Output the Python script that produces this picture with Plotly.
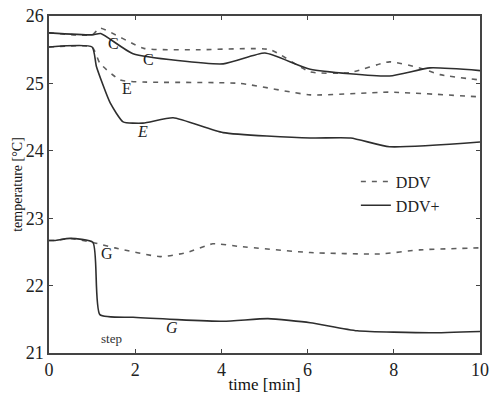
import plotly.graph_objects as go

# Data (time in min, temperature in °C)
c_ddvp_t = [0, 1.0, 1.2, 1.95, 4.04, 5.01, 6.06, 7.9, 8.84, 10]
c_ddvp_y = [25.75, 25.72, 25.74, 25.44, 25.29, 25.45, 25.21, 25.11, 25.23, 25.19]
c_ddv_t = [0, 1.0, 1.18, 2.2, 3.5, 5.13, 6.06, 6.98, 7.9, 8.6, 9.07, 10]
c_ddv_y = [25.75, 25.72, 25.82, 25.52, 25.5, 25.5, 25.17, 25.16, 25.32, 25.23, 25.13, 25.05]

e_ddvp_t = [0, 1.0, 1.1, 1.42, 1.72, 2.18, 2.88, 4.04, 6.06, 7.0, 7.9, 10]
e_ddvp_y = [25.54, 25.54, 25.25, 24.71, 24.43, 24.41, 24.49, 24.27, 24.19, 24.19, 24.06, 24.13]
e_ddv_t = [0, 1.0, 1.18, 1.65, 2.18, 4.43, 6.06, 7.9, 10]
e_ddv_y = [25.54, 25.54, 25.3, 25.05, 25.02, 25.0, 24.83, 24.87, 24.8]

g_ddvp_t = [0, 0.14, 0.49, 1.02, 1.18, 1.95, 4.04, 5.08, 6.06, 7.15, 8.84, 10]
g_ddvp_y = [22.67, 22.67, 22.70, 22.64, 21.57, 21.53, 21.47, 21.51, 21.45, 21.33, 21.30, 21.32]
g_ddv_t = [0, 0.14, 0.49, 1.02, 1.53, 2.58, 3.2, 3.8, 4.43, 6.06, 7.68, 8.6, 10]
g_ddv_y = [22.67, 22.67, 22.70, 22.64, 22.56, 22.43, 22.49, 22.62, 22.58, 22.49, 22.47, 22.53, 22.56]

x_ticks = [0, 2, 4, 6, 8, 10]
y_ticks = [21, 22, 23, 24, 25, 26]

labels = [("C", 1.49, 25.59, False), ("C", 2.3, 25.36, False),
          ("E", 1.81, 24.93, False), ("E", 2.16, 24.28, True),
          ("G", 1.35, 22.48, False), ("G", 2.85, 21.38, True)]

SOLID = "#2e2e2e"
DASHC = "#5e5e5e"
FONT = "Liberation Serif"

fig = go.Figure()
series = [(c_ddv_t, c_ddv_y, c_ddvp_t, c_ddvp_y),
          (e_ddv_t, e_ddv_y, e_ddvp_t, e_ddvp_y),
          (g_ddv_t, g_ddv_y, g_ddvp_t, g_ddvp_y)]
for i, (dt, dy, st, sy) in enumerate(series):
    fig.add_trace(go.Scatter(x=dt, y=dy, mode="lines", name="DDV",
                             legendgroup="ddv", showlegend=(i == 0),
                             line=dict(color=DASHC, width=1.6, dash="5px,6px",
                                       shape="spline", smoothing=0.5)))
    fig.add_trace(go.Scatter(x=st, y=sy, mode="lines", name="DDV+",
                             legendgroup="ddvp", showlegend=(i == 0),
                             line=dict(color=SOLID, width=1.6,
                                       shape="spline", smoothing=0.5)))

for txt, x, y, it in labels:
    fig.add_annotation(x=x, y=y, text=("<i>%s</i>" % txt) if it else txt,
                       showarrow=False, font=dict(family=FONT, size=16, color="#222"))
fig.add_annotation(x=1.44, y=21.22, text="step", showarrow=False,
                   font=dict(family=FONT, size=13, color="#333"))

axis_common = dict(showgrid=False, zeroline=False, showline=True, linecolor="#444",
                   linewidth=1.5, mirror="ticks", ticks="inside", ticklen=4,
                   tickcolor="#444", automargin=False, ticklabeloverflow="allow",
                   tickfont=dict(family=FONT, size=18, color="#222"))
fig.update_xaxes(range=[0, 10], tickvals=x_ticks, ticklabelstandoff=0,
                 title=dict(text="time [min]", font=dict(family=FONT, size=17, color="#111"),
                            standoff=0),
                 **axis_common)
fig.update_yaxes(range=[21, 26], tickvals=y_ticks, ticklabelstandoff=0,
                 title=dict(text="temperature [°C]", font=dict(family=FONT, size=14, color="#111"),
                            standoff=0),
                 **axis_common)

fig.update_layout(width=489, height=394, margin=dict(l=49, r=9, t=16, b=41),
                  paper_bgcolor="white", plot_bgcolor="white",
                  legend=dict(x=0.712, y=0.559, xanchor="left", yanchor="top",
                              bgcolor="rgba(0,0,0,0)", tracegroupgap=0, itemwidth=30,
                              font=dict(family=FONT, size=16, color="#222")),
                  showlegend=True)

fig.write_html("out.html", config={"displayModeBar": False},
               post_script="document.body.style.margin='0px';")
